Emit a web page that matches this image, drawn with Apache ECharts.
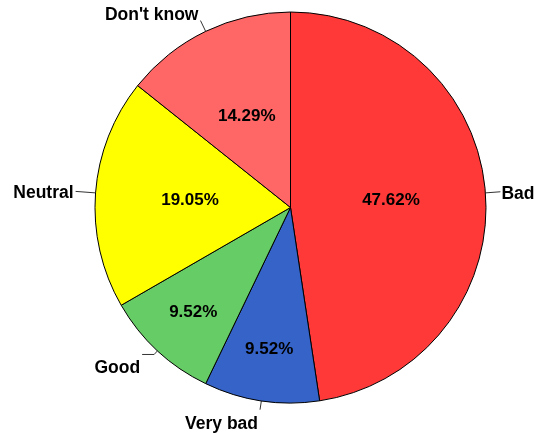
<!DOCTYPE html>
<html>
<head>
<meta charset="utf-8">
<script src="https://cdn.jsdelivr.net/npm/echarts@6/dist/echarts.min.js"></script>
<style>
  html, body { margin: 0; padding: 0; background: #ffffff; }
  #chart { width: 537px; height: 433px; }
</style>
</head>
<body>
<div id="chart"></div>
<script>
// Survey answers, counted per response
const categories = ['Bad', 'Very bad', 'Good', 'Neutral', "Don't know"];
const counts = [10, 2, 2, 4, 3];

// Slice styling, kept apart from the data
const colors = ['#FF3838', '#3563C8', '#66CC66', '#FFFF00', '#FF6666'];
const leaderLength = [15, 9, 5, 20, 12];        // radial part, px
const leaderLength2 = [0, 0, 12, 0, 0];         // horizontal part, px
const narrowSlices = ['Very bad', 'Good'];      // percent printed further out

const FONT = '"Liberation Sans", Arial, Helvetica, sans-serif';
const CENTER = [290.5, 207.5];
const R = 195.5;

const percentLabel = {
  color: '#000000',
  fontFamily: FONT,
  fontWeight: 'bold',
  fontSize: 17,
  formatter: '{d}%'
};

// Percent labels, one ring for wide slices and one further out for narrow ones
function percentSeries(radius, wantNarrow) {
  return {
    type: 'pie',
    center: CENTER,
    radius: [0, radius],
    startAngle: 90,
    clockwise: true,
    silent: true,
    z: 3,
    itemStyle: { color: 'rgba(0,0,0,0)', borderWidth: 0 },
    labelLine: { show: false },
    label: Object.assign({ position: 'inside' }, percentLabel),
    data: categories.map((name, i) => ({
      name: name,
      value: counts[i],
      label: { show: narrowSlices.includes(name) === wantNarrow }
    }))
  };
}

const chart = echarts.init(document.getElementById('chart'), null, { renderer: 'canvas' });
chart.setOption({
  animation: false,
  backgroundColor: '#ffffff',
  series: [
    {
      // the slices themselves, named around the rim
      type: 'pie',
      center: CENTER,
      radius: [0, R],
      startAngle: 90,
      clockwise: true,
      silent: true,
      itemStyle: { borderColor: '#000000', borderWidth: 1 },
      label: {
        show: true,
        position: 'outside',
        formatter: '{b}',
        color: '#000000',
        fontFamily: FONT,
        fontWeight: 'bold',
        fontSize: 17.5,
        overflow: 'none'
      },
      labelLine: {
        show: true,
        lineStyle: { color: '#333333', width: 1 }
      },
      // place each name at the end of its leader line: beside it on the
      // flanks, under or over it near the bottom and top
      labelLayout: function (p) {
        const pts = p.labelLinePoints;
        if (!pts) return {};
        const start = pts[0];
        const mid = pts[1];
        const end = pts[pts.length - 1];
        const dx = mid[0] - start[0];
        const dy = mid[1] - start[1];
        const len = Math.sqrt(dx * dx + dy * dy) || 1;
        const ux = dx / len, uy = dy / len;
        let x = end[0], y = end[1];
        const align = ux >= 0 ? 'left' : 'right';
        let vAlign = 'middle';
        if (Math.abs(uy) > 0.5) {
          if (uy > 0) { vAlign = 'top'; y += 5; x -= 2; }
          else { vAlign = 'bottom'; y += 4; x -= 2; }
        } else {
          x += ux >= 0 ? 1 : -2;
          y += 2;
        }
        return {
          x: x, y: y, align: align, verticalAlign: vAlign,
          labelLinePoints: pts
        };
      },
      data: categories.map((name, i) => ({
        name: name,
        value: counts[i],
        itemStyle: { color: colors[i] },
        labelLine: { length: leaderLength[i], length2: leaderLength2[i] }
      }))
    },
    percentSeries(R, false),
    percentSeries(280, true)
  ]
});
</script>
</body>
</html>
